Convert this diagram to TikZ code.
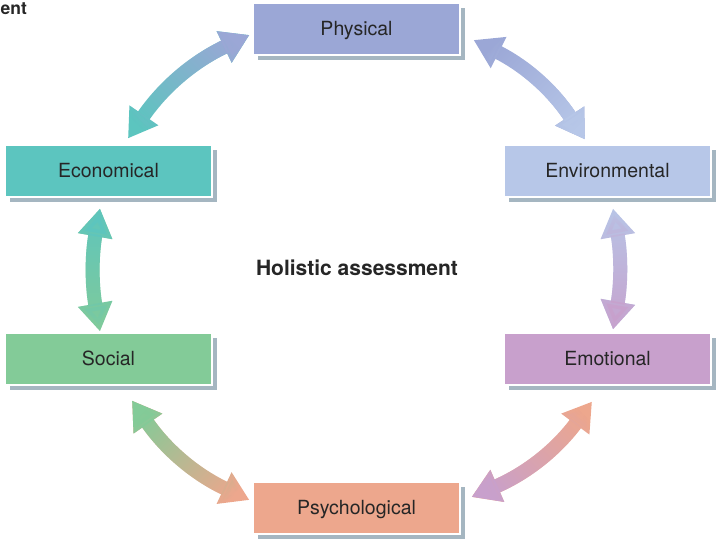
\documentclass[tikz,border=0pt]{standalone}
\usepackage{fontspec}
\setmainfont{TeX Gyre Heros}
\usetikzlibrary{arrows.meta,shadows,fadings}
\definecolor{cPhys}{HTML}{9BA7D6}
\definecolor{cEcon}{HTML}{5CC5BF}
\definecolor{cEnvi}{HTML}{B7C7E8}
\definecolor{cSoci}{HTML}{83CB98}
\definecolor{cEmot}{HTML}{C8A0CC}
\definecolor{cPsyc}{HTML}{EDA78D}
\definecolor{cShad}{HTML}{8FA4B2}
\tikzfading[name=fadeab, left color=transparent!100, right color=transparent!0]
\tikzset{box/.style={draw=white, line width=1.2pt, minimum width=207pt, minimum height=52pt, inner sep=0pt, text height=13.5pt, text depth=0pt, text=black!85, font=\fontsize{19.5}{22}\selectfont, drop shadow={shadow xshift=5pt, shadow yshift=-5pt, fill=cShad, opacity=.8}},
  link/.style={line width=14pt, {Triangle[width=33pt,length=28pt]}-{Triangle[width=33pt,length=28pt]}}}

\begin{document}
\begin{tikzpicture}[x=1pt,y=1pt]
   \useasboundingbox (0,0) rectangle (718,544);
   \node[box,fill=cPhys] (phys) at (356.5,515) {Physical};
   \node[box,fill=cEcon] (econ) at (108.5,373) {Economical};
   \node[box,fill=cEnvi] (envi) at (607.5,373) {Environmental};
   \node[box,fill=cSoci] (soci) at (108.5,185) {Social};
   \node[box,fill=cEmot] (emot) at (607.5,185) {Emotional};
   \node[box,fill=cPsyc] (psyc) at (356.5,36) {Psychological};
   \node[font=\fontsize{21}{24}\selectfont\bfseries, text=black!85] (title) at (357,276) {Holistic assessment};
   \node[font=\fontsize{17.5}{20}\selectfont\bfseries, text=black!85, anchor=base west, inner sep=0pt] (head) at (0.5,529) {ent};
   \coordinate (tl1) at ([shift={(19.5,6)}]econ.north);
   \coordinate (tl2) at ([shift={(-3,-6)}]phys.west);
   \coordinate (tr1) at ([shift={(13,-11)}]phys.east);
   \coordinate (tr2) at ([shift={(-22.5,5)}]envi.north);
   \coordinate (r1) at ([shift={(5.5,-11)}]envi.south);
   \coordinate (r2) at ([shift={(5.5,3)}]emot.north);
   \coordinate (br1) at ([shift={(-15.5,-16)}]emot.south);
   \coordinate (br2) at ([shift={(11,11)}]psyc.east);
   \coordinate (bl1) at ([shift={(-3,8)}]psyc.west);
   \coordinate (bl2) at ([shift={(23.5,-15)}]soci.south);
   \coordinate (l1) at ([shift={(-8.5,1)}]soci.north);
   \coordinate (l2) at ([shift={(-8.5,-11)}]econ.south);
   \draw[link,cEcon] (tl1) to[bend left=15] (tl2);
   \draw[link,cPhys,path fading=fadeab,fading angle=40] (tl1) to[bend left=15] (tl2);
   \draw[link,cPhys] (tr1) to[bend left=15] (tr2);
   \draw[link,cEnvi,path fading=fadeab,fading angle=-42] (tr1) to[bend left=15] (tr2);
   \draw[link,cEnvi] (r1) to[bend left=10] (r2);
   \draw[link,cEmot,path fading=fadeab,fading angle=-90] (r1) to[bend left=10] (r2);
   \draw[link,cPsyc] (br1) to[bend left=15] (br2);
   \draw[link,cEmot,path fading=fadeab,fading angle=218] (br1) to[bend left=15] (br2);
   \draw[link,cPsyc] (bl1) to[bend left=15] (bl2);
   \draw[link,cSoci,path fading=fadeab,fading angle=140] (bl1) to[bend left=15] (bl2);
   \draw[link,cSoci] (l1) to[bend left=10] (l2);
   \draw[link,cEcon,path fading=fadeab,fading angle=90] (l1) to[bend left=10] (l2);
\end{tikzpicture}
\end{document}
